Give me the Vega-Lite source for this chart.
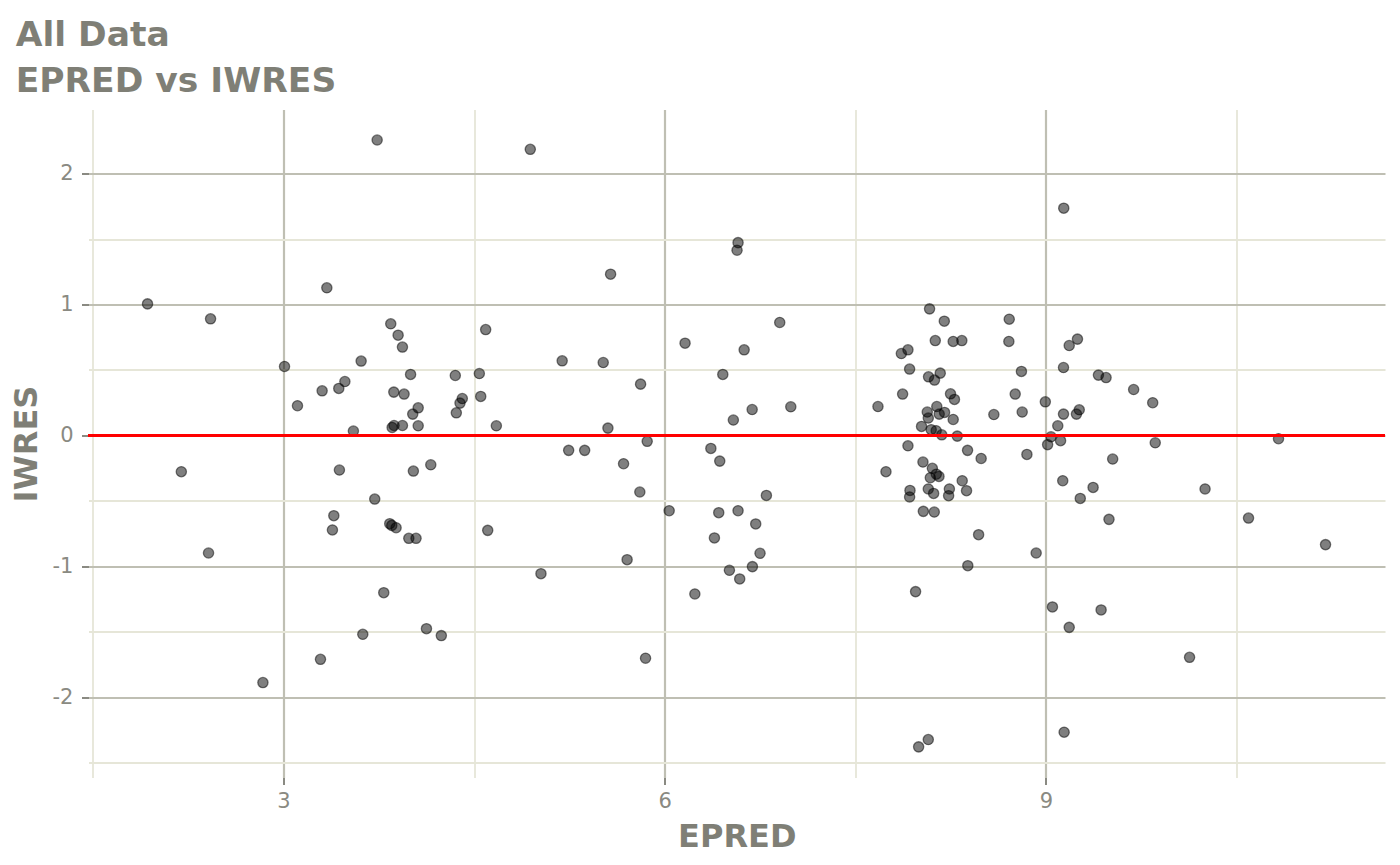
{
  "$schema": "https://vega.github.io/schema/vega-lite/v6.json",
  "autosize": {"type": "none"},
  "width": 1296.5,
  "height": 668,
  "padding": {"left": 88.5, "top": 109.5, "right": 15, "bottom": 87.5},
  "background": "white",
  "config": {
    "view": {"stroke": null},
    "font": "DejaVu Sans"
  },
  "title": {
    "text": ["All Data", "EPRED vs IWRES"],
    "anchor": "start",
    "frame": "group",
    "dx": -72.8,
    "dy": 36,
    "offset": 12,
    "baseline": "bottom",
    "font": "DejaVu Sans",
    "fontSize": 34.5,
    "fontWeight": "bold",
    "lineHeight": 46.4,
    "color": "#7f7f76"
  },
  "data": {
    "values": [
      {"EPRED": 1.93, "IWRES": 1.005},
      {"EPRED": 2.196, "IWRES": -0.277},
      {"EPRED": 2.41, "IWRES": -0.898},
      {"EPRED": 2.426, "IWRES": 0.891},
      {"EPRED": 2.838, "IWRES": -1.888},
      {"EPRED": 3.008, "IWRES": 0.527},
      {"EPRED": 3.11, "IWRES": 0.227},
      {"EPRED": 3.291, "IWRES": -1.71},
      {"EPRED": 3.304, "IWRES": 0.341},
      {"EPRED": 3.341, "IWRES": 1.128},
      {"EPRED": 3.385, "IWRES": -0.722},
      {"EPRED": 3.396, "IWRES": -0.613},
      {"EPRED": 3.435, "IWRES": 0.359},
      {"EPRED": 3.44, "IWRES": -0.264},
      {"EPRED": 3.483, "IWRES": 0.412},
      {"EPRED": 3.55, "IWRES": 0.034},
      {"EPRED": 3.611, "IWRES": 0.568},
      {"EPRED": 3.624, "IWRES": -1.519},
      {"EPRED": 3.718, "IWRES": -0.486},
      {"EPRED": 3.737, "IWRES": 2.257},
      {"EPRED": 3.789, "IWRES": -1.201},
      {"EPRED": 3.836, "IWRES": -0.674},
      {"EPRED": 3.852, "IWRES": -0.687},
      {"EPRED": 3.844, "IWRES": 0.853},
      {"EPRED": 3.855, "IWRES": 0.061},
      {"EPRED": 3.868, "IWRES": 0.331},
      {"EPRED": 3.87, "IWRES": 0.076},
      {"EPRED": 3.886, "IWRES": -0.705},
      {"EPRED": 3.902, "IWRES": 0.766},
      {"EPRED": 3.936, "IWRES": 0.675},
      {"EPRED": 3.936, "IWRES": 0.076},
      {"EPRED": 3.949, "IWRES": 0.316},
      {"EPRED": 3.986, "IWRES": -0.786},
      {"EPRED": 4.0, "IWRES": 0.466},
      {"EPRED": 4.017, "IWRES": 0.163},
      {"EPRED": 4.022, "IWRES": -0.272},
      {"EPRED": 4.043, "IWRES": -0.786},
      {"EPRED": 4.06, "IWRES": 0.211},
      {"EPRED": 4.06, "IWRES": 0.074},
      {"EPRED": 4.125, "IWRES": -1.476},
      {"EPRED": 4.159, "IWRES": -0.224},
      {"EPRED": 4.242, "IWRES": -1.529},
      {"EPRED": 4.352, "IWRES": 0.458},
      {"EPRED": 4.36, "IWRES": 0.173},
      {"EPRED": 4.389, "IWRES": 0.247},
      {"EPRED": 4.407, "IWRES": 0.282},
      {"EPRED": 4.541, "IWRES": 0.473},
      {"EPRED": 4.552, "IWRES": 0.298},
      {"EPRED": 4.591, "IWRES": 0.809},
      {"EPRED": 4.607, "IWRES": -0.725},
      {"EPRED": 4.675, "IWRES": 0.074},
      {"EPRED": 4.942, "IWRES": 2.186},
      {"EPRED": 5.026, "IWRES": -1.056},
      {"EPRED": 5.193, "IWRES": 0.57},
      {"EPRED": 5.244, "IWRES": -0.114},
      {"EPRED": 5.37, "IWRES": -0.114},
      {"EPRED": 5.516, "IWRES": 0.557},
      {"EPRED": 5.553, "IWRES": 0.056},
      {"EPRED": 5.574, "IWRES": 1.232},
      {"EPRED": 5.676, "IWRES": -0.216},
      {"EPRED": 5.704, "IWRES": -0.949},
      {"EPRED": 5.804, "IWRES": -0.432},
      {"EPRED": 5.81, "IWRES": 0.392},
      {"EPRED": 5.849, "IWRES": -1.702},
      {"EPRED": 5.862, "IWRES": -0.045},
      {"EPRED": 6.035, "IWRES": -0.575},
      {"EPRED": 6.16, "IWRES": 0.705},
      {"EPRED": 6.237, "IWRES": -1.211},
      {"EPRED": 6.363, "IWRES": -0.099},
      {"EPRED": 6.391, "IWRES": -0.783},
      {"EPRED": 6.425, "IWRES": -0.59},
      {"EPRED": 6.433, "IWRES": -0.196},
      {"EPRED": 6.457, "IWRES": 0.466},
      {"EPRED": 6.509, "IWRES": -1.03},
      {"EPRED": 6.54, "IWRES": 0.118},
      {"EPRED": 6.569, "IWRES": 1.415},
      {"EPRED": 6.577, "IWRES": 1.473},
      {"EPRED": 6.577, "IWRES": -0.575},
      {"EPRED": 6.59, "IWRES": -1.096},
      {"EPRED": 6.625, "IWRES": 0.654},
      {"EPRED": 6.688, "IWRES": 0.198},
      {"EPRED": 6.69, "IWRES": -1.002},
      {"EPRED": 6.716, "IWRES": -0.676},
      {"EPRED": 6.75, "IWRES": -0.9},
      {"EPRED": 6.8, "IWRES": -0.458},
      {"EPRED": 6.905, "IWRES": 0.863},
      {"EPRED": 6.992, "IWRES": 0.219},
      {"EPRED": 7.678, "IWRES": 0.221},
      {"EPRED": 7.741, "IWRES": -0.277},
      {"EPRED": 7.862, "IWRES": 0.626},
      {"EPRED": 7.872, "IWRES": 0.316},
      {"EPRED": 7.914, "IWRES": 0.654},
      {"EPRED": 7.914, "IWRES": -0.079},
      {"EPRED": 7.927, "IWRES": 0.507},
      {"EPRED": 7.93, "IWRES": -0.42},
      {"EPRED": 7.927, "IWRES": -0.47},
      {"EPRED": 7.974, "IWRES": -1.193},
      {"EPRED": 7.998, "IWRES": -2.379},
      {"EPRED": 8.021, "IWRES": 0.069},
      {"EPRED": 8.032, "IWRES": -0.203},
      {"EPRED": 8.035, "IWRES": -0.58},
      {"EPRED": 8.066, "IWRES": 0.179},
      {"EPRED": 8.074, "IWRES": 0.133},
      {"EPRED": 8.074, "IWRES": -0.409},
      {"EPRED": 8.074, "IWRES": -2.323},
      {"EPRED": 8.076, "IWRES": 0.448},
      {"EPRED": 8.084, "IWRES": 0.967},
      {"EPRED": 8.09, "IWRES": -0.323},
      {"EPRED": 8.097, "IWRES": 0.044},
      {"EPRED": 8.106, "IWRES": -0.251},
      {"EPRED": 8.116, "IWRES": -0.443},
      {"EPRED": 8.121, "IWRES": -0.585},
      {"EPRED": 8.123, "IWRES": 0.423},
      {"EPRED": 8.129, "IWRES": 0.725},
      {"EPRED": 8.136, "IWRES": 0.036},
      {"EPRED": 8.137, "IWRES": -0.296},
      {"EPRED": 8.141, "IWRES": 0.221},
      {"EPRED": 8.158, "IWRES": -0.313},
      {"EPRED": 8.16, "IWRES": 0.163},
      {"EPRED": 8.168, "IWRES": 0.476},
      {"EPRED": 8.18, "IWRES": 0.005},
      {"EPRED": 8.2, "IWRES": 0.873},
      {"EPRED": 8.202, "IWRES": 0.176},
      {"EPRED": 8.234, "IWRES": -0.46},
      {"EPRED": 8.24, "IWRES": -0.409},
      {"EPRED": 8.249, "IWRES": 0.318},
      {"EPRED": 8.27, "IWRES": 0.718},
      {"EPRED": 8.27, "IWRES": 0.122},
      {"EPRED": 8.28, "IWRES": 0.275},
      {"EPRED": 8.302, "IWRES": -0.005},
      {"EPRED": 8.338, "IWRES": 0.725},
      {"EPRED": 8.341, "IWRES": -0.346},
      {"EPRED": 8.375, "IWRES": -0.422},
      {"EPRED": 8.383, "IWRES": -0.114},
      {"EPRED": 8.385, "IWRES": -0.995},
      {"EPRED": 8.47, "IWRES": -0.758},
      {"EPRED": 8.49, "IWRES": -0.176},
      {"EPRED": 8.59, "IWRES": 0.16},
      {"EPRED": 8.708, "IWRES": 0.718},
      {"EPRED": 8.711, "IWRES": 0.888},
      {"EPRED": 8.758, "IWRES": 0.316},
      {"EPRED": 8.807, "IWRES": 0.489},
      {"EPRED": 8.813, "IWRES": 0.179},
      {"EPRED": 8.85, "IWRES": -0.145},
      {"EPRED": 8.923, "IWRES": -0.898},
      {"EPRED": 8.995, "IWRES": 0.257},
      {"EPRED": 9.013, "IWRES": -0.07},
      {"EPRED": 9.04, "IWRES": -0.01},
      {"EPRED": 9.051, "IWRES": -1.31},
      {"EPRED": 9.093, "IWRES": 0.074},
      {"EPRED": 9.115, "IWRES": -0.04},
      {"EPRED": 9.132, "IWRES": -0.346},
      {"EPRED": 9.138, "IWRES": 0.519},
      {"EPRED": 9.138, "IWRES": 0.163},
      {"EPRED": 9.14, "IWRES": 1.736},
      {"EPRED": 9.143, "IWRES": -2.267},
      {"EPRED": 9.183, "IWRES": 0.687},
      {"EPRED": 9.183, "IWRES": -1.466},
      {"EPRED": 9.24, "IWRES": 0.163},
      {"EPRED": 9.248, "IWRES": 0.736},
      {"EPRED": 9.262, "IWRES": 0.196},
      {"EPRED": 9.27, "IWRES": -0.481},
      {"EPRED": 9.371, "IWRES": -0.397},
      {"EPRED": 9.413, "IWRES": 0.461},
      {"EPRED": 9.434, "IWRES": -1.333},
      {"EPRED": 9.473, "IWRES": 0.442},
      {"EPRED": 9.496, "IWRES": -0.641},
      {"EPRED": 9.525, "IWRES": -0.18},
      {"EPRED": 9.69, "IWRES": 0.351},
      {"EPRED": 9.84, "IWRES": 0.25},
      {"EPRED": 9.86, "IWRES": -0.056},
      {"EPRED": 10.13, "IWRES": -1.695},
      {"EPRED": 10.252, "IWRES": -0.409},
      {"EPRED": 10.594, "IWRES": -0.631},
      {"EPRED": 10.83, "IWRES": -0.025},
      {"EPRED": 11.2, "IWRES": -0.834}
    ]
  },
  "encoding": {
    "x": {
      "field": "EPRED",
      "type": "quantitative",
      "title": "EPRED",
      "scale": {"domain": [1.4655, 11.668], "nice": false, "zero": false},
      "axis": {
        "values": [1.5, 3, 4.5, 6, 7.5, 9, 10.5],
        "labelExpr": "datum.value % 3 === 0 ? '' + datum.value : ''",
        "domain": false,
        "grid": true,
        "gridColor": {"condition": {"test": "datum.value % 3 !== 0", "value": "#e6e6d8"}, "value": "#bfbfb3"},
        "gridWidth": {"condition": {"test": "datum.value % 3 !== 0", "value": 1.8}, "value": 2.2},
        "tickColor": {"condition": {"test": "datum.value % 3 !== 0", "value": "transparent"}, "value": "#8a8a82"},
        "tickSize": 7,
        "tickWidth": 2,
        "labelFont": "DejaVu Sans",
        "labelFontSize": 21,
        "labelColor": "#8a8a82",
        "labelPadding": 5.5,
        "titleFont": "DejaVu Sans",
        "titleFontSize": 32,
        "titleFontWeight": "bold",
        "titleColor": "#7f7f76",
        "titlePadding": 10
      }
    },
    "y": {
      "field": "IWRES",
      "type": "quantitative",
      "title": "IWRES",
      "scale": {"domain": [-2.613, 2.49], "nice": false, "zero": false},
      "axis": {
        "values": [-2.5, -2, -1.5, -1, -0.5, 0, 0.5, 1, 1.5, 2],
        "labelExpr": "datum.value % 1 === 0 ? '' + datum.value : ''",
        "domain": false,
        "grid": true,
        "gridColor": {"condition": {"test": "datum.value % 1 !== 0", "value": "#e6e6d8"}, "value": "#bfbfb3"},
        "gridWidth": {"condition": {"test": "datum.value % 1 !== 0", "value": 1.8}, "value": 2.2},
        "tickColor": {"condition": {"test": "datum.value % 1 !== 0", "value": "transparent"}, "value": "#8a8a82"},
        "tickSize": 7,
        "tickWidth": 2,
        "labelFont": "DejaVu Sans",
        "labelFontSize": 21,
        "labelColor": "#8a8a82",
        "labelPadding": 8.5,
        "titleFont": "DejaVu Sans",
        "titleFontSize": 32,
        "titleFontWeight": "bold",
        "titleColor": "#7f7f76",
        "titlePadding": 9
      }
    }
  },
  "layer": [
    {
      "mark": {
        "type": "circle",
        "size": 105,
        "fill": "black",
        "fillOpacity": 0.5,
        "stroke": "black",
        "strokeOpacity": 0.5,
        "strokeWidth": 1.3,
        "opacity": 1
      }
    },
    {
      "mark": {"type": "rule", "color": "#ff0000", "strokeWidth": 2.6},
      "encoding": {
        "x": {"value": 0},
        "x2": {"value": 1296.5},
        "y": {"datum": 0}
      }
    }
  ]
}
